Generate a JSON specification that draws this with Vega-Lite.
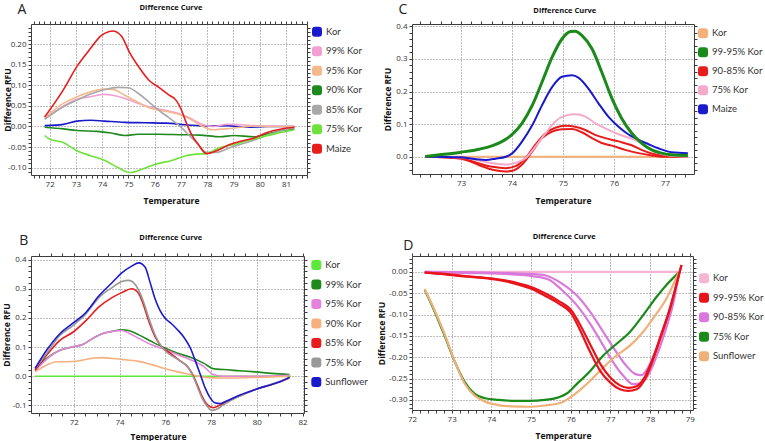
{
"$schema":"https://vega.github.io/schema/vega-lite/v6.json",
"background":"white",
"padding":{"left":1,"top":1,"right":0,"bottom":0},
"datasets":{
"A":[
{"s":"Kor","x":71.81,"y":0.002},{"s":"Kor","x":72.52,"y":0.005},{"s":"Kor","x":73.04,"y":0.013},{"s":"Kor","x":73.56,"y":0.015},{"s":"Kor","x":74.08,"y":0.013},{"s":"Kor","x":74.86,"y":0.01},{"s":"Kor","x":75.64,"y":0.009},{"s":"Kor","x":76.42,"y":0.008},{"s":"Kor","x":77.19,"y":0.004},{"s":"Kor","x":77.97,"y":0.001},{"s":"Kor","x":78.75,"y":0.002},{"s":"Kor","x":79.53,"y":-0.002},{"s":"Kor","x":80.31,"y":0},{"s":"Kor","x":81.32,"y":0},
{"s":"99% Kor","x":71.81,"y":0.019},{"s":"99% Kor","x":72.52,"y":0.049},{"s":"99% Kor","x":73.04,"y":0.066},{"s":"99% Kor","x":73.56,"y":0.072},{"s":"99% Kor","x":74.08,"y":0.078},{"s":"99% Kor","x":74.4,"y":0.076},{"s":"99% Kor","x":74.86,"y":0.068},{"s":"99% Kor","x":75.38,"y":0.056},{"s":"99% Kor","x":75.9,"y":0.046},{"s":"99% Kor","x":76.42,"y":0.039},{"s":"99% Kor","x":76.94,"y":0.031},{"s":"99% Kor","x":77.32,"y":0.021},{"s":"99% Kor","x":77.71,"y":0.008},{"s":"99% Kor","x":78.23,"y":0},{"s":"99% Kor","x":78.75,"y":0.005},{"s":"99% Kor","x":79.27,"y":0.004},{"s":"99% Kor","x":79.79,"y":0.002},{"s":"99% Kor","x":80.31,"y":0.001},{"s":"99% Kor","x":81.32,"y":0},
{"s":"95% Kor","x":71.81,"y":0.021},{"s":"95% Kor","x":72.52,"y":0.056},{"s":"95% Kor","x":73.04,"y":0.072},{"s":"95% Kor","x":73.56,"y":0.084},{"s":"95% Kor","x":74.08,"y":0.091},{"s":"95% Kor","x":74.4,"y":0.09},{"s":"95% Kor","x":74.86,"y":0.076},{"s":"95% Kor","x":75.38,"y":0.058},{"s":"95% Kor","x":75.9,"y":0.043},{"s":"95% Kor","x":76.42,"y":0.037},{"s":"95% Kor","x":76.94,"y":0.029},{"s":"95% Kor","x":77.32,"y":0.019},{"s":"95% Kor","x":77.71,"y":0.004},{"s":"95% Kor","x":78.23,"y":-0.008},{"s":"95% Kor","x":78.75,"y":-0.006},{"s":"95% Kor","x":79.27,"y":-0.002},{"s":"95% Kor","x":79.79,"y":0.001},{"s":"95% Kor","x":80.31,"y":0},{"s":"95% Kor","x":81.32,"y":0},
{"s":"90% Kor","x":71.81,"y":-0.002},{"s":"90% Kor","x":72.52,"y":-0.006},{"s":"90% Kor","x":73.04,"y":-0.01},{"s":"90% Kor","x":73.82,"y":-0.012},{"s":"90% Kor","x":74.34,"y":-0.016},{"s":"90% Kor","x":74.86,"y":-0.022},{"s":"90% Kor","x":75.38,"y":-0.019},{"s":"90% Kor","x":76.16,"y":-0.019},{"s":"90% Kor","x":76.94,"y":-0.02},{"s":"90% Kor","x":77.71,"y":-0.021},{"s":"90% Kor","x":78.49,"y":-0.025},{"s":"90% Kor","x":79.01,"y":-0.022},{"s":"90% Kor","x":79.79,"y":-0.025},{"s":"90% Kor","x":80.31,"y":-0.018},{"s":"90% Kor","x":80.83,"y":-0.01},{"s":"90% Kor","x":81.32,"y":-0.006},
{"s":"85% Kor","x":71.81,"y":0.017},{"s":"85% Kor","x":72.52,"y":0.048},{"s":"85% Kor","x":73.04,"y":0.064},{"s":"85% Kor","x":73.56,"y":0.079},{"s":"85% Kor","x":74.08,"y":0.089},{"s":"85% Kor","x":74.6,"y":0.095},{"s":"85% Kor","x":74.99,"y":0.094},{"s":"85% Kor","x":75.38,"y":0.08},{"s":"85% Kor","x":75.77,"y":0.06},{"s":"85% Kor","x":76.16,"y":0.039},{"s":"85% Kor","x":76.55,"y":0.021},{"s":"85% Kor","x":76.94,"y":0.002},{"s":"85% Kor","x":77.32,"y":-0.022},{"s":"85% Kor","x":77.65,"y":-0.043},{"s":"85% Kor","x":77.97,"y":-0.063},{"s":"85% Kor","x":78.36,"y":-0.063},{"s":"85% Kor","x":78.88,"y":-0.051},{"s":"85% Kor","x":79.4,"y":-0.041},{"s":"85% Kor","x":79.92,"y":-0.03},{"s":"85% Kor","x":80.44,"y":-0.018},{"s":"85% Kor","x":80.96,"y":-0.008},{"s":"85% Kor","x":81.32,"y":-0.003},
{"s":"75% Kor","x":71.81,"y":-0.022},{"s":"75% Kor","x":72.0,"y":-0.031},{"s":"75% Kor","x":72.52,"y":-0.039},{"s":"75% Kor","x":73.04,"y":-0.059},{"s":"75% Kor","x":73.56,"y":-0.071},{"s":"75% Kor","x":74.08,"y":-0.082},{"s":"75% Kor","x":74.6,"y":-0.1},{"s":"75% Kor","x":75.05,"y":-0.112},{"s":"75% Kor","x":75.51,"y":-0.104},{"s":"75% Kor","x":76.03,"y":-0.092},{"s":"75% Kor","x":76.68,"y":-0.082},{"s":"75% Kor","x":77.19,"y":-0.071},{"s":"75% Kor","x":77.71,"y":-0.067},{"s":"75% Kor","x":77.97,"y":-0.066},{"s":"75% Kor","x":78.49,"y":-0.051},{"s":"75% Kor","x":79.01,"y":-0.044},{"s":"75% Kor","x":79.53,"y":-0.034},{"s":"75% Kor","x":80.05,"y":-0.026},{"s":"75% Kor","x":80.57,"y":-0.018},{"s":"75% Kor","x":81.09,"y":-0.011},{"s":"75% Kor","x":81.32,"y":-0.008},
{"s":"Maize","x":71.81,"y":0.023},{"s":"Maize","x":72.52,"y":0.089},{"s":"Maize","x":73.04,"y":0.146},{"s":"Maize","x":73.56,"y":0.19},{"s":"Maize","x":73.95,"y":0.22},{"s":"Maize","x":74.27,"y":0.231},{"s":"Maize","x":74.4,"y":0.232},{"s":"Maize","x":74.73,"y":0.22},{"s":"Maize","x":75.05,"y":0.179},{"s":"Maize","x":75.38,"y":0.146},{"s":"Maize","x":75.77,"y":0.113},{"s":"Maize","x":76.16,"y":0.095},{"s":"Maize","x":76.55,"y":0.076},{"s":"Maize","x":76.81,"y":0.064},{"s":"Maize","x":77.0,"y":0.043},{"s":"Maize","x":77.19,"y":0.011},{"s":"Maize","x":77.39,"y":-0.018},{"s":"Maize","x":77.65,"y":-0.043},{"s":"Maize","x":77.97,"y":-0.066},{"s":"Maize","x":78.36,"y":-0.059},{"s":"Maize","x":78.88,"y":-0.043},{"s":"Maize","x":79.27,"y":-0.036},{"s":"Maize","x":79.79,"y":-0.028},{"s":"Maize","x":80.31,"y":-0.014},{"s":"Maize","x":80.83,"y":-0.006},{"s":"Maize","x":81.32,"y":-0.002}
],
"B":[
{"s":"Kor","x":70.31,"y":0},{"s":"Kor","x":81.5,"y":0},
{"s":"99% Kor","x":70.31,"y":0.024},{"s":"99% Kor","x":70.81,"y":0.061},{"s":"99% Kor","x":71.39,"y":0.089},{"s":"99% Kor","x":71.96,"y":0.101},{"s":"99% Kor","x":72.39,"y":0.109},{"s":"99% Kor","x":72.81,"y":0.129},{"s":"99% Kor","x":73.24,"y":0.146},{"s":"99% Kor","x":73.67,"y":0.154},{"s":"99% Kor","x":74.1,"y":0.159},{"s":"99% Kor","x":74.39,"y":0.157},{"s":"99% Kor","x":74.84,"y":0.142},{"s":"99% Kor","x":75.4,"y":0.119},{"s":"99% Kor","x":76.0,"y":0.096},{"s":"99% Kor","x":76.54,"y":0.079},{"s":"99% Kor","x":77.1,"y":0.065},{"s":"99% Kor","x":77.67,"y":0.045},{"s":"99% Kor","x":78.1,"y":0.026},{"s":"99% Kor","x":78.52,"y":0.023},{"s":"99% Kor","x":79.23,"y":0.019},{"s":"99% Kor","x":79.94,"y":0.015},{"s":"99% Kor","x":80.65,"y":0.01},{"s":"99% Kor","x":81.43,"y":0.006},
{"s":"95% Kor","x":70.31,"y":0.019},{"s":"95% Kor","x":70.81,"y":0.058},{"s":"95% Kor","x":71.39,"y":0.089},{"s":"95% Kor","x":71.96,"y":0.101},{"s":"95% Kor","x":72.39,"y":0.109},{"s":"95% Kor","x":72.81,"y":0.129},{"s":"95% Kor","x":73.24,"y":0.146},{"s":"95% Kor","x":73.67,"y":0.154},{"s":"95% Kor","x":74.1,"y":0.157},{"s":"95% Kor","x":74.27,"y":0.153},{"s":"95% Kor","x":74.84,"y":0.13},{"s":"95% Kor","x":75.4,"y":0.108},{"s":"95% Kor","x":76.0,"y":0.091},{"s":"95% Kor","x":76.54,"y":0.074},{"s":"95% Kor","x":77.1,"y":0.057},{"s":"95% Kor","x":77.67,"y":0.034},{"s":"95% Kor","x":78.1,"y":0.006},{"s":"95% Kor","x":78.52,"y":0},{"s":"95% Kor","x":79.94,"y":0},{"s":"95% Kor","x":81.43,"y":0.003},
{"s":"90% Kor","x":70.31,"y":0.016},{"s":"90% Kor","x":70.81,"y":0.038},{"s":"90% Kor","x":71.24,"y":0.05},{"s":"90% Kor","x":71.67,"y":0.05},{"s":"90% Kor","x":72.24,"y":0.053},{"s":"90% Kor","x":72.81,"y":0.062},{"s":"90% Kor","x":73.24,"y":0.064},{"s":"90% Kor","x":73.67,"y":0.061},{"s":"90% Kor","x":74.1,"y":0.058},{"s":"90% Kor","x":74.84,"y":0.051},{"s":"90% Kor","x":75.4,"y":0.04},{"s":"90% Kor","x":76.0,"y":0.026},{"s":"90% Kor","x":76.54,"y":0.015},{"s":"90% Kor","x":77.1,"y":0.006},{"s":"90% Kor","x":77.67,"y":-0.003},{"s":"90% Kor","x":78.52,"y":-0.006},{"s":"90% Kor","x":79.94,"y":-0.004},{"s":"90% Kor","x":81.43,"y":0.0},
{"s":"85% Kor","x":70.31,"y":0.021},{"s":"85% Kor","x":70.81,"y":0.072},{"s":"85% Kor","x":71.39,"y":0.123},{"s":"85% Kor","x":71.96,"y":0.151},{"s":"85% Kor","x":72.53,"y":0.191},{"s":"85% Kor","x":73.1,"y":0.238},{"s":"85% Kor","x":73.67,"y":0.27},{"s":"85% Kor","x":74.1,"y":0.287},{"s":"85% Kor","x":74.53,"y":0.3},{"s":"85% Kor","x":74.84,"y":0.283},{"s":"85% Kor","x":75.05,"y":0.244},{"s":"85% Kor","x":75.26,"y":0.193},{"s":"85% Kor","x":75.55,"y":0.136},{"s":"85% Kor","x":75.83,"y":0.102},{"s":"85% Kor","x":76.11,"y":0.085},{"s":"85% Kor","x":76.4,"y":0.068},{"s":"85% Kor","x":76.68,"y":0.051},{"s":"85% Kor","x":76.96,"y":0.034},{"s":"85% Kor","x":77.18,"y":0.008},{"s":"85% Kor","x":77.39,"y":-0.028},{"s":"85% Kor","x":77.6,"y":-0.068},{"s":"85% Kor","x":77.82,"y":-0.096},{"s":"85% Kor","x":78.1,"y":-0.108},{"s":"85% Kor","x":78.38,"y":-0.099},{"s":"85% Kor","x":78.67,"y":-0.087},{"s":"85% Kor","x":79.23,"y":-0.068},{"s":"85% Kor","x":79.94,"y":-0.045},{"s":"85% Kor","x":80.79,"y":-0.025},{"s":"85% Kor","x":81.43,"y":-0.006},
{"s":"75% Kor","x":70.31,"y":0.027},{"s":"75% Kor","x":70.81,"y":0.078},{"s":"75% Kor","x":71.39,"y":0.14},{"s":"75% Kor","x":71.96,"y":0.174},{"s":"75% Kor","x":72.53,"y":0.214},{"s":"75% Kor","x":73.1,"y":0.27},{"s":"75% Kor","x":73.67,"y":0.304},{"s":"75% Kor","x":74.1,"y":0.325},{"s":"75% Kor","x":74.4,"y":0.329},{"s":"75% Kor","x":74.6,"y":0.322},{"s":"75% Kor","x":74.84,"y":0.295},{"s":"75% Kor","x":75.05,"y":0.255},{"s":"75% Kor","x":75.26,"y":0.204},{"s":"75% Kor","x":75.55,"y":0.142},{"s":"75% Kor","x":75.83,"y":0.102},{"s":"75% Kor","x":76.11,"y":0.079},{"s":"75% Kor","x":76.4,"y":0.065},{"s":"75% Kor","x":76.68,"y":0.051},{"s":"75% Kor","x":76.96,"y":0.034},{"s":"75% Kor","x":77.18,"y":0.006},{"s":"75% Kor","x":77.39,"y":-0.034},{"s":"75% Kor","x":77.6,"y":-0.074},{"s":"75% Kor","x":77.82,"y":-0.102},{"s":"75% Kor","x":78.03,"y":-0.117},{"s":"75% Kor","x":78.24,"y":-0.113},{"s":"75% Kor","x":78.52,"y":-0.099},{"s":"75% Kor","x":79.09,"y":-0.074},{"s":"75% Kor","x":79.94,"y":-0.045},{"s":"75% Kor","x":80.79,"y":-0.023},{"s":"75% Kor","x":81.43,"y":-0.004},
{"s":"Sunflower","x":70.31,"y":0.027},{"s":"Sunflower","x":70.81,"y":0.089},{"s":"Sunflower","x":71.39,"y":0.146},{"s":"Sunflower","x":71.96,"y":0.182},{"s":"Sunflower","x":72.53,"y":0.219},{"s":"Sunflower","x":73.1,"y":0.276},{"s":"Sunflower","x":73.67,"y":0.321},{"s":"Sunflower","x":74.1,"y":0.355},{"s":"Sunflower","x":74.53,"y":0.378},{"s":"Sunflower","x":74.84,"y":0.389},{"s":"Sunflower","x":75.12,"y":0.374},{"s":"Sunflower","x":75.33,"y":0.323},{"s":"Sunflower","x":75.55,"y":0.266},{"s":"Sunflower","x":75.76,"y":0.227},{"s":"Sunflower","x":76.0,"y":0.198},{"s":"Sunflower","x":76.26,"y":0.181},{"s":"Sunflower","x":76.54,"y":0.159},{"s":"Sunflower","x":76.82,"y":0.133},{"s":"Sunflower","x":77.1,"y":0.096},{"s":"Sunflower","x":77.32,"y":0.051},{"s":"Sunflower","x":77.53,"y":0.006},{"s":"Sunflower","x":77.74,"y":-0.04},{"s":"Sunflower","x":77.96,"y":-0.074},{"s":"Sunflower","x":78.17,"y":-0.091},{"s":"Sunflower","x":78.38,"y":-0.094},{"s":"Sunflower","x":78.67,"y":-0.085},{"s":"Sunflower","x":79.23,"y":-0.065},{"s":"Sunflower","x":79.94,"y":-0.045},{"s":"Sunflower","x":80.65,"y":-0.028},{"s":"Sunflower","x":81.08,"y":-0.017},{"s":"Sunflower","x":81.43,"y":-0.003}
],
"C":[
{"s":"Kor","c":"k","x":72.3,"y":0},{"s":"Kor","c":"k","x":77.45,"y":0},
{"s":"99-95% Kor","c":"g","x":72.3,"y":0.001},{"s":"99-95% Kor","c":"g","x":72.58,"y":0.006},{"s":"99-95% Kor","c":"g","x":73.0,"y":0.014},{"s":"99-95% Kor","c":"g","x":73.36,"y":0.023},{"s":"99-95% Kor","c":"g","x":73.62,"y":0.034},{"s":"99-95% Kor","c":"g","x":73.81,"y":0.047},{"s":"99-95% Kor","c":"g","x":74.01,"y":0.069},{"s":"99-95% Kor","c":"g","x":74.2,"y":0.103},{"s":"99-95% Kor","c":"g","x":74.4,"y":0.158},{"s":"99-95% Kor","c":"g","x":74.59,"y":0.229},{"s":"99-95% Kor","c":"g","x":74.79,"y":0.306},{"s":"99-95% Kor","c":"g","x":74.98,"y":0.361},{"s":"99-95% Kor","c":"g","x":75.15,"y":0.384},{"s":"99-95% Kor","c":"g","x":75.24,"y":0.385},{"s":"99-95% Kor","c":"g","x":75.37,"y":0.372},{"s":"99-95% Kor","c":"g","x":75.57,"y":0.331},{"s":"99-95% Kor","c":"g","x":75.76,"y":0.26},{"s":"99-95% Kor","c":"g","x":75.96,"y":0.179},{"s":"99-95% Kor","c":"g","x":76.15,"y":0.118},{"s":"99-95% Kor","c":"g","x":76.35,"y":0.072},{"s":"99-95% Kor","c":"g","x":76.54,"y":0.042},{"s":"99-95% Kor","c":"g","x":76.74,"y":0.021},{"s":"99-95% Kor","c":"g","x":76.93,"y":0.011},{"s":"99-95% Kor","c":"g","x":77.13,"y":0.006},{"s":"99-95% Kor","c":"g","x":77.45,"y":0.004},
{"s":"90-85% Kor","c":"r1","x":72.3,"y":0},{"s":"90-85% Kor","c":"r1","x":73.0,"y":-0.004},{"s":"90-85% Kor","c":"r1","x":73.36,"y":-0.021},{"s":"90-85% Kor","c":"r1","x":73.62,"y":-0.031},{"s":"90-85% Kor","c":"r1","x":73.88,"y":-0.035},{"s":"90-85% Kor","c":"r1","x":74.07,"y":-0.029},{"s":"90-85% Kor","c":"r1","x":74.27,"y":-0.004},{"s":"90-85% Kor","c":"r1","x":74.46,"y":0.037},{"s":"90-85% Kor","c":"r1","x":74.66,"y":0.072},{"s":"90-85% Kor","c":"r1","x":74.85,"y":0.089},{"s":"90-85% Kor","c":"r1","x":75.05,"y":0.095},{"s":"90-85% Kor","c":"r1","x":75.24,"y":0.092},{"s":"90-85% Kor","c":"r1","x":75.44,"y":0.082},{"s":"90-85% Kor","c":"r1","x":75.63,"y":0.067},{"s":"90-85% Kor","c":"r1","x":75.83,"y":0.057},{"s":"90-85% Kor","c":"r1","x":76.09,"y":0.047},{"s":"90-85% Kor","c":"r1","x":76.35,"y":0.035},{"s":"90-85% Kor","c":"r1","x":76.54,"y":0.021},{"s":"90-85% Kor","c":"r1","x":76.74,"y":0.01},{"s":"90-85% Kor","c":"r1","x":76.93,"y":0.004},{"s":"90-85% Kor","c":"r1","x":77.45,"y":0},
{"s":"90-85% Kor","c":"r2","x":72.3,"y":0},{"s":"90-85% Kor","c":"r2","x":73.0,"y":-0.006},{"s":"90-85% Kor","c":"r2","x":73.36,"y":-0.026},{"s":"90-85% Kor","c":"r2","x":73.62,"y":-0.04},{"s":"90-85% Kor","c":"r2","x":73.88,"y":-0.045},{"s":"90-85% Kor","c":"r2","x":74.01,"y":-0.043},{"s":"90-85% Kor","c":"r2","x":74.2,"y":-0.024},{"s":"90-85% Kor","c":"r2","x":74.4,"y":0.016},{"s":"90-85% Kor","c":"r2","x":74.59,"y":0.057},{"s":"90-85% Kor","c":"r2","x":74.79,"y":0.077},{"s":"90-85% Kor","c":"r2","x":74.98,"y":0.084},{"s":"90-85% Kor","c":"r2","x":75.18,"y":0.085},{"s":"90-85% Kor","c":"r2","x":75.37,"y":0.075},{"s":"90-85% Kor","c":"r2","x":75.57,"y":0.057},{"s":"90-85% Kor","c":"r2","x":75.76,"y":0.042},{"s":"90-85% Kor","c":"r2","x":75.96,"y":0.034},{"s":"90-85% Kor","c":"r2","x":76.22,"y":0.021},{"s":"90-85% Kor","c":"r2","x":76.48,"y":0.011},{"s":"90-85% Kor","c":"r2","x":76.74,"y":0.004},{"s":"90-85% Kor","c":"r2","x":76.93,"y":0},{"s":"90-85% Kor","c":"r2","x":77.45,"y":0},
{"s":"75% Kor","c":"p","x":72.3,"y":0},{"s":"75% Kor","c":"p","x":73.0,"y":-0.002},{"s":"75% Kor","c":"p","x":73.36,"y":-0.012},{"s":"75% Kor","c":"p","x":73.62,"y":-0.02},{"s":"75% Kor","c":"p","x":73.88,"y":-0.024},{"s":"75% Kor","c":"p","x":74.07,"y":-0.019},{"s":"75% Kor","c":"p","x":74.27,"y":-0.004},{"s":"75% Kor","c":"p","x":74.46,"y":0.031},{"s":"75% Kor","c":"p","x":74.66,"y":0.072},{"s":"75% Kor","c":"p","x":74.85,"y":0.108},{"s":"75% Kor","c":"p","x":75.05,"y":0.126},{"s":"75% Kor","c":"p","x":75.24,"y":0.13},{"s":"75% Kor","c":"p","x":75.44,"y":0.123},{"s":"75% Kor","c":"p","x":75.63,"y":0.103},{"s":"75% Kor","c":"p","x":75.83,"y":0.087},{"s":"75% Kor","c":"p","x":76.09,"y":0.069},{"s":"75% Kor","c":"p","x":76.35,"y":0.055},{"s":"75% Kor","c":"p","x":76.54,"y":0.042},{"s":"75% Kor","c":"p","x":76.74,"y":0.021},{"s":"75% Kor","c":"p","x":76.93,"y":0.008},{"s":"75% Kor","c":"p","x":77.13,"y":0.003},{"s":"75% Kor","c":"p","x":77.45,"y":0},
{"s":"Maize","c":"m","x":72.3,"y":0},{"s":"Maize","c":"m","x":73.0,"y":-0.002},{"s":"Maize","c":"m","x":73.23,"y":-0.006},{"s":"Maize","c":"m","x":73.49,"y":-0.01},{"s":"Maize","c":"m","x":73.68,"y":-0.006},{"s":"Maize","c":"m","x":73.88,"y":0},{"s":"Maize","c":"m","x":74.01,"y":0.011},{"s":"Maize","c":"m","x":74.2,"y":0.047},{"s":"Maize","c":"m","x":74.4,"y":0.097},{"s":"Maize","c":"m","x":74.59,"y":0.158},{"s":"Maize","c":"m","x":74.79,"y":0.214},{"s":"Maize","c":"m","x":74.98,"y":0.245},{"s":"Maize","c":"m","x":75.18,"y":0.25},{"s":"Maize","c":"m","x":75.31,"y":0.242},{"s":"Maize","c":"m","x":75.5,"y":0.209},{"s":"Maize","c":"m","x":75.7,"y":0.163},{"s":"Maize","c":"m","x":75.89,"y":0.123},{"s":"Maize","c":"m","x":76.09,"y":0.092},{"s":"Maize","c":"m","x":76.28,"y":0.069},{"s":"Maize","c":"m","x":76.48,"y":0.052},{"s":"Maize","c":"m","x":76.67,"y":0.039},{"s":"Maize","c":"m","x":76.87,"y":0.026},{"s":"Maize","c":"m","x":77.13,"y":0.014},{"s":"Maize","c":"m","x":77.45,"y":0.011}
],
"D":[
{"s":"Kor","c":"k","x":72.32,"y":0},{"s":"Kor","c":"k","x":78.77,"y":0},
{"s":"90-85% Kor","c":"v2","x":72.32,"y":0},{"s":"90-85% Kor","c":"v2","x":73.5,"y":-0.001},{"s":"90-85% Kor","c":"v2","x":74.34,"y":-0.003},{"s":"90-85% Kor","c":"v2","x":75.02,"y":-0.005},{"s":"90-85% Kor","c":"v2","x":75.35,"y":-0.008},{"s":"90-85% Kor","c":"v2","x":75.77,"y":-0.027},{"s":"90-85% Kor","c":"v2","x":76.15,"y":-0.055},{"s":"90-85% Kor","c":"v2","x":76.49,"y":-0.094},{"s":"90-85% Kor","c":"v2","x":76.82,"y":-0.141},{"s":"90-85% Kor","c":"v2","x":77.15,"y":-0.188},{"s":"90-85% Kor","c":"v2","x":77.4,"y":-0.22},{"s":"90-85% Kor","c":"v2","x":77.62,"y":-0.239},{"s":"90-85% Kor","c":"v2","x":77.78,"y":-0.242},{"s":"90-85% Kor","c":"v2","x":77.95,"y":-0.224},{"s":"90-85% Kor","c":"v2","x":78.16,"y":-0.18},{"s":"90-85% Kor","c":"v2","x":78.37,"y":-0.126},{"s":"90-85% Kor","c":"v2","x":78.58,"y":-0.063},{"s":"90-85% Kor","c":"v2","x":78.72,"y":-0.008},
{"s":"90-85% Kor","c":"v1","x":72.32,"y":-0.001},{"s":"90-85% Kor","c":"v1","x":73.5,"y":-0.003},{"s":"90-85% Kor","c":"v1","x":74.34,"y":-0.005},{"s":"90-85% Kor","c":"v1","x":75.02,"y":-0.01},{"s":"90-85% Kor","c":"v1","x":75.44,"y":-0.018},{"s":"90-85% Kor","c":"v1","x":75.77,"y":-0.042},{"s":"90-85% Kor","c":"v1","x":76.15,"y":-0.078},{"s":"90-85% Kor","c":"v1","x":76.49,"y":-0.122},{"s":"90-85% Kor","c":"v1","x":76.82,"y":-0.173},{"s":"90-85% Kor","c":"v1","x":77.07,"y":-0.212},{"s":"90-85% Kor","c":"v1","x":77.32,"y":-0.243},{"s":"90-85% Kor","c":"v1","x":77.57,"y":-0.263},{"s":"90-85% Kor","c":"v1","x":77.78,"y":-0.26},{"s":"90-85% Kor","c":"v1","x":77.99,"y":-0.235},{"s":"90-85% Kor","c":"v1","x":78.2,"y":-0.188},{"s":"90-85% Kor","c":"v1","x":78.41,"y":-0.13},{"s":"90-85% Kor","c":"v1","x":78.58,"y":-0.075},{"s":"90-85% Kor","c":"v1","x":78.72,"y":-0.008},
{"s":"75% Kor","c":"g","x":72.32,"y":-0.042},{"s":"75% Kor","c":"g","x":72.57,"y":-0.093},{"s":"75% Kor","c":"g","x":72.83,"y":-0.152},{"s":"75% Kor","c":"g","x":73.08,"y":-0.211},{"s":"75% Kor","c":"g","x":73.33,"y":-0.258},{"s":"75% Kor","c":"g","x":73.58,"y":-0.286},{"s":"75% Kor","c":"g","x":73.84,"y":-0.296},{"s":"75% Kor","c":"g","x":74.17,"y":-0.3},{"s":"75% Kor","c":"g","x":74.51,"y":-0.302},{"s":"75% Kor","c":"g","x":74.93,"y":-0.302},{"s":"75% Kor","c":"g","x":75.35,"y":-0.3},{"s":"75% Kor","c":"g","x":75.69,"y":-0.294},{"s":"75% Kor","c":"g","x":75.9,"y":-0.285},{"s":"75% Kor","c":"g","x":76.15,"y":-0.263},{"s":"75% Kor","c":"g","x":76.49,"y":-0.232},{"s":"75% Kor","c":"g","x":76.82,"y":-0.196},{"s":"75% Kor","c":"g","x":77.15,"y":-0.169},{"s":"75% Kor","c":"g","x":77.49,"y":-0.141},{"s":"75% Kor","c":"g","x":77.82,"y":-0.102},{"s":"75% Kor","c":"g","x":78.16,"y":-0.059},{"s":"75% Kor","c":"g","x":78.41,"y":-0.031},{"s":"75% Kor","c":"g","x":78.72,"y":-0.002},
{"s":"Sunflower","c":"o","x":72.32,"y":-0.04},{"s":"Sunflower","c":"o","x":72.57,"y":-0.09},{"s":"Sunflower","c":"o","x":72.83,"y":-0.148},{"s":"Sunflower","c":"o","x":73.08,"y":-0.211},{"s":"Sunflower","c":"o","x":73.33,"y":-0.262},{"s":"Sunflower","c":"o","x":73.58,"y":-0.29},{"s":"Sunflower","c":"o","x":73.84,"y":-0.304},{"s":"Sunflower","c":"o","x":74.17,"y":-0.312},{"s":"Sunflower","c":"o","x":74.51,"y":-0.315},{"s":"Sunflower","c":"o","x":74.93,"y":-0.316},{"s":"Sunflower","c":"o","x":75.35,"y":-0.313},{"s":"Sunflower","c":"o","x":75.77,"y":-0.306},{"s":"Sunflower","c":"o","x":76.15,"y":-0.283},{"s":"Sunflower","c":"o","x":76.49,"y":-0.255},{"s":"Sunflower","c":"o","x":76.82,"y":-0.224},{"s":"Sunflower","c":"o","x":77.15,"y":-0.196},{"s":"Sunflower","c":"o","x":77.49,"y":-0.173},{"s":"Sunflower","c":"o","x":77.82,"y":-0.141},{"s":"Sunflower","c":"o","x":78.16,"y":-0.098},{"s":"Sunflower","c":"o","x":78.41,"y":-0.063},{"s":"Sunflower","c":"o","x":78.62,"y":-0.022},{"s":"Sunflower","c":"o","x":78.72,"y":-0.002},
{"s":"99-95% Kor","c":"r1","x":72.32,"y":-0.002},{"s":"99-95% Kor","c":"r1","x":72.83,"y":-0.006},{"s":"99-95% Kor","c":"r1","x":73.33,"y":-0.011},{"s":"99-95% Kor","c":"r1","x":73.84,"y":-0.015},{"s":"99-95% Kor","c":"r1","x":74.34,"y":-0.022},{"s":"99-95% Kor","c":"r1","x":74.68,"y":-0.03},{"s":"99-95% Kor","c":"r1","x":75.02,"y":-0.04},{"s":"99-95% Kor","c":"r1","x":75.35,"y":-0.056},{"s":"99-95% Kor","c":"r1","x":75.69,"y":-0.074},{"s":"99-95% Kor","c":"r1","x":76.03,"y":-0.1},{"s":"99-95% Kor","c":"r1","x":76.2,"y":-0.13},{"s":"99-95% Kor","c":"r1","x":76.49,"y":-0.188},{"s":"99-95% Kor","c":"r1","x":76.74,"y":-0.232},{"s":"99-95% Kor","c":"r1","x":76.99,"y":-0.259},{"s":"99-95% Kor","c":"r1","x":77.24,"y":-0.275},{"s":"99-95% Kor","c":"r1","x":77.45,"y":-0.279},{"s":"99-95% Kor","c":"r1","x":77.66,"y":-0.275},{"s":"99-95% Kor","c":"r1","x":77.87,"y":-0.251},{"s":"99-95% Kor","c":"r1","x":78.08,"y":-0.204},{"s":"99-95% Kor","c":"r1","x":78.28,"y":-0.149},{"s":"99-95% Kor","c":"r1","x":78.49,"y":-0.09},{"s":"99-95% Kor","c":"r1","x":78.66,"y":-0.031},{"s":"99-95% Kor","c":"r1","x":78.79,"y":0.016},
{"s":"99-95% Kor","c":"r2","x":72.32,"y":-0.002},{"s":"99-95% Kor","c":"r2","x":72.83,"y":-0.005},{"s":"99-95% Kor","c":"r2","x":73.33,"y":-0.01},{"s":"99-95% Kor","c":"r2","x":73.84,"y":-0.014},{"s":"99-95% Kor","c":"r2","x":74.34,"y":-0.02},{"s":"99-95% Kor","c":"r2","x":74.68,"y":-0.027},{"s":"99-95% Kor","c":"r2","x":75.02,"y":-0.036},{"s":"99-95% Kor","c":"r2","x":75.35,"y":-0.05},{"s":"99-95% Kor","c":"r2","x":75.69,"y":-0.068},{"s":"99-95% Kor","c":"r2","x":76.03,"y":-0.092},{"s":"99-95% Kor","c":"r2","x":76.2,"y":-0.118},{"s":"99-95% Kor","c":"r2","x":76.49,"y":-0.17},{"s":"99-95% Kor","c":"r2","x":76.74,"y":-0.215},{"s":"99-95% Kor","c":"r2","x":76.99,"y":-0.247},{"s":"99-95% Kor","c":"r2","x":77.24,"y":-0.266},{"s":"99-95% Kor","c":"r2","x":77.45,"y":-0.272},{"s":"99-95% Kor","c":"r2","x":77.66,"y":-0.268},{"s":"99-95% Kor","c":"r2","x":77.87,"y":-0.245},{"s":"99-95% Kor","c":"r2","x":78.08,"y":-0.2},{"s":"99-95% Kor","c":"r2","x":78.28,"y":-0.146},{"s":"99-95% Kor","c":"r2","x":78.49,"y":-0.088},{"s":"99-95% Kor","c":"r2","x":78.66,"y":-0.03},{"s":"99-95% Kor","c":"r2","x":78.79,"y":0.016}
]
},
"columns":2,
"bounds":"flush",
"align":"each",
"spacing":{"row":81,"column":105},
"resolve":{"scale":{"x":"independent","y":"independent","color":"independent"},"axis":{"x":"independent","y":"independent"},"legend":{"color":"independent"}},
"concat":[
{
"width":276,"height":151,
"data":{"name":"A"},
"resolve":{"axis":{"x":"independent","y":"independent"}},
"layer":[
{"transform":[{"filter":"datum.s !== 'Maize'"}],
"mark":{"type":"line","interpolate":"monotone","strokeWidth":1.6},
"encoding":{
"x":{"field":"x","type":"quantitative","scale":{"domain":[71.29,81.8],"nice":false,"zero":false},"axis":{"orient":"bottom","tickCount":50,"format":".0f","labelExpr":"abs(datum.value - round(datum.value)) < 1e-6 ? datum.label : ''","grid":true,"gridOpacity":{"condition":{"test":"abs(datum.value - round(datum.value)) < 1e-6","value":1},"value":0},"title":"Temperature","titleX":140,"titleY":28}},
"y":{"field":"y","type":"quantitative","scale":{"domain":[-0.118,0.249],"nice":false,"zero":false},"axis":{"orient":"left","tickCount":36,"format":".2f","labelExpr":"abs(datum.value*20 - round(datum.value*20)) < 1e-6 ? replace(datum.label, '−', '-') : ''","grid":true,"gridOpacity":{"condition":{"test":"abs(datum.value*20 - round(datum.value*20)) < 1e-6","value":1},"value":0},"title":"Difference RFU","titleX":-21}},
"color":{"field":"s","type":"nominal","scale":{"domain":["Kor","99% Kor","95% Kor","90% Kor","85% Kor","75% Kor","Maize"],"range":["#1a1acc","#f2a0d2","#f4b88c","#1e8a1e","#a8a8a8","#6ee23a","#e81c1c"]},"legend":{"orient":"none","legendX":281,"legendY":2.7,"title":null,"symbolType":"square","symbolSize":16,"symbolStrokeWidth":6,"labelFont":"Lato","labelFontSize":9.5,"labelOffset":4,"rowPadding":9.5,"padding":0,"labelColor":"#333333","encode":{"symbols":{"update":{"strokeJoin":{"value":"round"}}}}}}
}},
{"transform":[{"filter":"datum.s === 'Maize'"}],
"mark":{"type":"line","interpolate":"monotone","strokeWidth":1.6},
"encoding":{
"x":{"field":"x","type":"quantitative","scale":{"domain":[71.29,81.8],"nice":false,"zero":false},"axis":{"orient":"top","tickCount":50,"labels":false,"grid":false,"title":"Difference Curve","titleX":139.5,"titleY":-14.3,"titleAlign":"center","titleFontSize":7.5}},
"y":{"field":"y","type":"quantitative","scale":{"domain":[-0.118,0.249],"nice":false,"zero":false},"axis":{"orient":"right","tickCount":36,"labels":false,"grid":false,"title":"A","titleAngle":0,"titleX":-290,"titleY":-11,"titleAlign":"left","titleFontSize":14,"titleFontWeight":"normal","titleColor":"#222222"}},
"color":{"field":"s","type":"nominal","scale":{"domain":["Kor","99% Kor","95% Kor","90% Kor","85% Kor","75% Kor","Maize"],"range":["#1a1acc","#f2a0d2","#f4b88c","#1e8a1e","#a8a8a8","#6ee23a","#e81c1c"]},"legend":{"orient":"none","legendX":281,"legendY":2.7,"title":null,"symbolType":"square","symbolSize":16,"symbolStrokeWidth":6,"labelFont":"Lato","labelFontSize":9.5,"labelOffset":4,"rowPadding":9.5,"padding":0,"labelColor":"#333333","encode":{"symbols":{"update":{"strokeJoin":{"value":"round"}}}}}}
}}
]
},
{
"width":282,"height":150,
"data":{"name":"C"},
"resolve":{"axis":{"x":"independent","y":"independent"}},
"layer":[
{"transform":[{"filter":"datum.s !== '99-95% Kor'"}],
"mark":{"type":"line","interpolate":"monotone","strokeWidth":2},
"encoding":{
"x":{"field":"x","type":"quantitative","scale":{"domain":[72.04,77.57],"nice":false,"zero":false},"axis":{"orient":"bottom","tickCount":27,"format":".0f","labelExpr":"abs(datum.value - round(datum.value)) < 1e-6 ? datum.label : ''","grid":true,"gridOpacity":{"condition":{"test":"abs(datum.value - round(datum.value)) < 1e-6","value":1},"value":0},"title":"Temperature","titleX":151,"titleY":29}},
"y":{"field":"y","type":"quantitative","scale":{"domain":[-0.053,0.407],"nice":false,"zero":false},"axis":{"orient":"left","tickCount":23,"format":".1f","labelExpr":"abs(datum.value*10 - round(datum.value*10)) < 1e-6 ? replace(datum.label, '−', '-') : ''","grid":true,"gridOpacity":{"condition":{"test":"abs(datum.value*10 - round(datum.value*10)) < 1e-6","value":1},"value":0},"title":"Difference RFU","titleX":-21.7}},
"detail":{"field":"c"},
"color":{"field":"s","type":"nominal","scale":{"domain":["Kor","99-95% Kor","90-85% Kor","75% Kor","Maize"],"range":["#f5b07a","#1a8a1a","#e81c1c","#f5aacb","#1a1acc"]},"legend":{"orient":"none","legendX":286,"legendY":4.3,"title":null,"symbolType":"square","symbolSize":16,"symbolStrokeWidth":6,"labelFont":"Lato","labelFontSize":9.5,"labelOffset":4,"rowPadding":9,"padding":0,"labelColor":"#333333","encode":{"symbols":{"update":{"strokeJoin":{"value":"round"}}}}}}
}},
{"transform":[{"filter":"datum.s === '99-95% Kor'"}],
"mark":{"type":"line","interpolate":"monotone","strokeWidth":3},
"encoding":{
"x":{"field":"x","type":"quantitative","scale":{"domain":[72.04,77.57],"nice":false,"zero":false},"axis":{"orient":"top","tickCount":27,"labels":false,"grid":false,"title":"Difference Curve","titleX":152.3,"titleY":-12,"titleAlign":"center","titleFontSize":7.5}},
"y":{"field":"y","type":"quantitative","scale":{"domain":[-0.053,0.407],"nice":false,"zero":false},"axis":{"orient":"right","tickCount":23,"labels":false,"grid":false,"title":"C","titleAngle":0,"titleX":-296,"titleY":-10.3,"titleAlign":"left","titleFontSize":14,"titleFontWeight":"normal","titleColor":"#222222"}},
"detail":{"field":"c"},
"color":{"field":"s","type":"nominal","scale":{"domain":["Kor","99-95% Kor","90-85% Kor","75% Kor","Maize"],"range":["#f5b07a","#1a8a1a","#e81c1c","#f5aacb","#1a1acc"]},"legend":{"orient":"none","legendX":286,"legendY":4.3,"title":null,"symbolType":"square","symbolSize":16,"symbolStrokeWidth":6,"labelFont":"Lato","labelFontSize":9.5,"labelOffset":4,"rowPadding":9,"padding":0,"labelColor":"#333333","encode":{"symbols":{"update":{"strokeJoin":{"value":"round"}}}}}}
}}
]
},
{
"width":273,"height":157,
"data":{"name":"B"},
"resolve":{"axis":{"x":"independent","y":"independent"}},
"layer":[
{"transform":[{"filter":"datum.s !== 'Sunflower'"}],
"mark":{"type":"line","interpolate":"monotone","strokeWidth":1.6},
"encoding":{
"x":{"field":"x","type":"quantitative","scale":{"domain":[70.13,82.06],"nice":false,"zero":false},"axis":{"orient":"bottom","tickCount":24,"format":".0f","labelExpr":"abs(datum.value/2 - round(datum.value/2)) < 1e-6 ? datum.label : ''","grid":true,"gridOpacity":{"condition":{"test":"abs(datum.value/2 - round(datum.value/2)) < 1e-6","value":1},"value":0},"title":"Temperature","titleX":127,"titleY":26.3}},
"y":{"field":"y","type":"quantitative","scale":{"domain":[-0.126,0.4126],"nice":false,"zero":false},"axis":{"orient":"left","tickCount":27,"format":".1f","labelExpr":"abs(datum.value*10 - round(datum.value*10)) < 1e-6 ? replace(datum.label, '−', '-') : ''","grid":true,"gridOpacity":{"condition":{"test":"abs(datum.value*10 - round(datum.value*10)) < 1e-6","value":1},"value":0},"title":"Difference RFU","titleX":-21.7}},
"color":{"field":"s","type":"nominal","scale":{"domain":["Kor","99% Kor","95% Kor","90% Kor","85% Kor","75% Kor","Sunflower"],"range":["#5ce83a","#1e8a1e","#e683dd","#f4b07e","#e81c1c","#999999","#1a1acc"]},"legend":{"orient":"none","legendX":280.3,"legendY":4,"title":null,"symbolType":"square","symbolSize":16,"symbolStrokeWidth":6,"labelFont":"Lato","labelFontSize":9.5,"labelOffset":4,"rowPadding":9.5,"padding":0,"labelColor":"#333333","encode":{"symbols":{"update":{"strokeJoin":{"value":"round"}}}}}}
}},
{"transform":[{"filter":"datum.s === 'Sunflower'"}],
"mark":{"type":"line","interpolate":"monotone","strokeWidth":1.6},
"encoding":{
"x":{"field":"x","type":"quantitative","scale":{"domain":[70.13,82.06],"nice":false,"zero":false},"axis":{"orient":"top","tickCount":24,"labels":false,"grid":false,"title":"Difference Curve","titleX":139.3,"titleY":-16.7,"titleAlign":"center","titleFontSize":7.5}},
"y":{"field":"y","type":"quantitative","scale":{"domain":[-0.126,0.4126],"nice":false,"zero":false},"axis":{"orient":"right","tickCount":27,"labels":false,"grid":false,"title":"B","titleAngle":0,"titleX":-285.3,"titleY":-12,"titleAlign":"left","titleFontSize":14,"titleFontWeight":"normal","titleColor":"#222222"}},
"color":{"field":"s","type":"nominal","scale":{"domain":["Kor","99% Kor","95% Kor","90% Kor","85% Kor","75% Kor","Sunflower"],"range":["#5ce83a","#1e8a1e","#e683dd","#f4b07e","#e81c1c","#999999","#1a1acc"]},"legend":{"orient":"none","legendX":280.3,"legendY":4,"title":null,"symbolType":"square","symbolSize":16,"symbolStrokeWidth":6,"labelFont":"Lato","labelFontSize":9.5,"labelOffset":4,"rowPadding":9.5,"padding":0,"labelColor":"#333333","encode":{"symbols":{"update":{"strokeJoin":{"value":"round"}}}}}}
}}
]
},
{
"width":281,"height":154,
"data":{"name":"D"},
"resolve":{"axis":{"x":"independent","y":"independent"}},
"layer":[
{"transform":[{"filter":"datum.s !== '99-95% Kor'"}],
"mark":{"type":"line","interpolate":"monotone","strokeWidth":2.2},
"encoding":{
"x":{"field":"x","type":"quantitative","scale":{"domain":[72,79.08],"nice":false,"zero":false},"axis":{"orient":"bottom","tickCount":35,"format":".0f","labelExpr":"abs(datum.value - round(datum.value)) < 1e-6 ? datum.label : ''","grid":true,"gridOpacity":{"condition":{"test":"abs(datum.value - round(datum.value)) < 1e-6","value":1},"value":0},"title":"Temperature","titleX":151,"titleY":28.7}},
"y":{"field":"y","type":"quantitative","scale":{"domain":[-0.3236,0.037],"nice":false,"zero":false},"axis":{"orient":"left","tickCount":36,"format":".2f","labelExpr":"abs(datum.value*20 - round(datum.value*20)) < 1e-6 ? replace(datum.label, '−', '-') : ''","grid":true,"gridOpacity":{"condition":{"test":"abs(datum.value*20 - round(datum.value*20)) < 1e-6","value":1},"value":0},"title":"Difference RFU","titleX":-28}},
"detail":{"field":"c"},
"color":{"field":"s","type":"nominal","scale":{"domain":["Kor","99-95% Kor","90-85% Kor","75% Kor","Sunflower"],"range":["#f5b4cf","#e8141c","#da78dc","#1a8a1a","#f0b07a"]},"legend":{"orient":"none","legendX":287,"legendY":17.3,"title":null,"symbolType":"square","symbolSize":16,"symbolStrokeWidth":6,"labelFont":"Lato","labelFontSize":9.5,"labelOffset":4,"rowPadding":9.5,"padding":0,"labelColor":"#333333","encode":{"symbols":{"update":{"strokeJoin":{"value":"round"}}}}}}
}},
{"transform":[{"filter":"datum.s === '99-95% Kor'"}],
"mark":{"type":"line","interpolate":"monotone","strokeWidth":2.2},
"encoding":{
"x":{"field":"x","type":"quantitative","scale":{"domain":[72,79.08],"nice":false,"zero":false},"axis":{"orient":"top","tickCount":35,"labels":false,"grid":false,"title":"Difference Curve","titleX":151.7,"titleY":-17.3,"titleAlign":"center","titleFontSize":7.5}},
"y":{"field":"y","type":"quantitative","scale":{"domain":[-0.3236,0.037],"nice":false,"zero":false},"axis":{"orient":"right","tickCount":36,"labels":false,"grid":false,"title":"D","titleAngle":0,"titleX":-290.3,"titleY":-6.7,"titleAlign":"left","titleFontSize":14,"titleFontWeight":"normal","titleColor":"#222222"}},
"detail":{"field":"c"},
"color":{"field":"s","type":"nominal","scale":{"domain":["Kor","99-95% Kor","90-85% Kor","75% Kor","Sunflower"],"range":["#f5b4cf","#e8141c","#da78dc","#1a8a1a","#f0b07a"]},"legend":{"orient":"none","legendX":287,"legendY":17.3,"title":null,"symbolType":"square","symbolSize":16,"symbolStrokeWidth":6,"labelFont":"Lato","labelFontSize":9.5,"labelOffset":4,"rowPadding":9.5,"padding":0,"labelColor":"#333333","encode":{"symbols":{"update":{"strokeJoin":{"value":"round"}}}}}}
}}
]
}
],
"config":{
"font":"Open Sans",
"view":{"stroke":"#3c3c3c","strokeWidth":1},
"axis":{"domain":false,"tickColor":"#3c3c3c","tickSize":3,"tickWidth":1,"labelFontSize":8,"labelColor":"#333333","labelPadding":2,"labelFlush":false,"labelOverlap":false,"titleFontSize":8.5,"titleFontWeight":"bold","titleColor":"#111111","titleBaseline":"alphabetic","gridColor":"#7a7a7a","gridDash":[1,2],"gridWidth":1},
"legend":{"labelFont":"Lato"}
}
}
